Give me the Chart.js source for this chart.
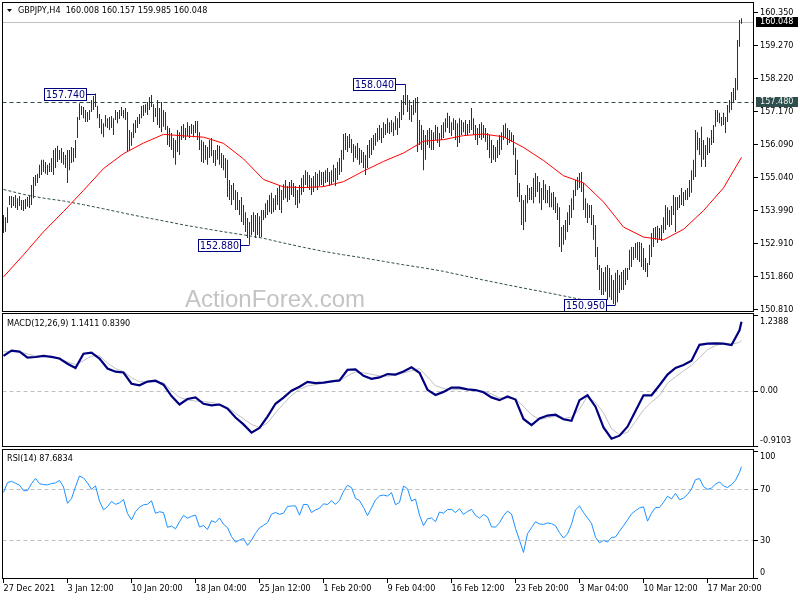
<!DOCTYPE html>
<html>
<head>
<meta charset="utf-8">
<title>GBPJPY H4</title>
<script src="https://cdn.jsdelivr.net/npm/chart.js@4.4.1/dist/chart.umd.min.js"></script>
<style>
  html, body { margin: 0; padding: 0; background: #ffffff; }
  #wrap { position: relative; width: 800px; height: 600px; overflow: hidden; background: #ffffff; }
  #wrap canvas { position: absolute; left: 0; display: block; }
</style>
</head>
<body>
<div id="wrap">
  <canvas id="cMain" width="800" height="312" style="top:0px"></canvas>
  <canvas id="cMacd" width="800" height="136" style="top:312px"></canvas>
  <canvas id="cRsi" width="800" height="152" style="top:448px"></canvas>
</div>
<script>
// ---------------- DATA ----------------
const symbol = 'GBPJPY,H4';
const lastOHLC = [160.008, 160.157, 159.985, 160.048];
const watermark = 'ActionForex.com';

const timeLabels = ['27 Dec 2021','3 Jan 12:00','10 Jan 20:00','18 Jan 04:00','25 Jan 12:00','1 Feb 20:00','9 Feb 04:00','16 Feb 12:00','23 Feb 20:00','3 Mar 04:00','10 Mar 12:00','17 Mar 20:00'];
const timeLabelBars = [0,32,64,96,128,160,192,224,256,288,320,352];

const priceTicks = [150.810,151.860,152.910,153.990,155.040,156.090,157.170,158.220,159.270,160.350];
const macdTicks = [-0.9103, 0, 1.2388];
const rsiTicks = [0, 30, 70, 100];
const rsiLevels = [70, 30];

const bidPrice = 160.048;
const levelPrice = 157.480;
const swingPrices = [157.740, 158.040, 152.880, 150.950];
const swingBars = [46, 201, 123, 306];

// H4 bar highs / lows (one per bar)
const high = [
153.84,153.77,154.09,154.45,154.45,154.42,154.48,154.38,154.45,154.32,
154.32,154.35,154.42,154.45,154.80,155.06,155.12,155.16,155.45,155.61,
155.61,155.54,155.45,155.51,155.67,155.93,155.99,156.06,155.93,155.99,
155.86,155.77,155.93,155.93,156.02,155.99,156.25,156.99,157.43,157.34,
157.31,157.21,157.15,157.21,157.53,157.66,157.74,157.34,157.08,156.92,
156.79,157.05,156.95,156.99,157.02,156.95,157.21,157.15,157.21,157.31,
157.21,157.28,157.15,156.57,156.50,156.79,156.89,156.99,157.08,157.34,
157.37,157.40,157.47,157.63,157.69,157.40,157.28,157.53,157.28,157.47,
157.21,157.15,156.70,156.63,156.47,156.31,156.25,156.57,156.50,156.70,
156.76,156.63,156.82,156.70,156.76,156.73,156.86,156.86,156.50,156.25,
156.19,156.09,156.02,156.25,156.31,155.93,155.93,156.09,156.06,155.83,
155.77,155.67,155.61,154.96,154.80,154.87,154.64,154.58,154.32,154.42,
154.16,153.93,153.74,153.61,153.84,153.93,153.84,153.90,153.80,154.00,
154.00,154.22,154.32,154.48,154.55,154.38,154.48,154.71,154.80,154.64,
154.83,154.96,154.77,154.90,154.96,154.87,154.77,154.64,154.80,155.03,
155.12,155.28,155.22,155.12,155.03,155.09,155.22,155.16,155.28,155.22,
155.22,155.28,155.35,155.22,155.28,155.45,155.35,155.54,155.67,155.93,
156.44,156.47,156.38,156.44,156.28,156.12,156.06,156.15,155.99,155.93,
155.86,155.77,156.09,156.25,156.31,156.41,156.47,156.63,156.73,156.63,
156.82,156.76,156.95,156.82,156.89,156.82,157.02,156.95,157.15,157.53,
157.69,158.04,157.69,157.53,157.37,157.53,157.60,157.63,156.89,156.73,
156.57,156.41,156.57,156.63,156.57,156.50,156.73,156.67,156.47,156.73,
156.82,156.95,157.12,157.02,156.82,156.95,156.89,156.79,156.95,156.89,
156.82,156.89,156.76,156.89,157.28,156.95,156.73,156.63,156.76,156.82,
156.73,156.63,156.47,156.41,156.25,156.09,156.02,156.25,156.41,156.50,
156.73,156.79,156.63,156.57,156.50,156.41,156.00,155.61,154.87,154.48,
154.32,154.48,154.80,154.71,154.74,155.03,155.19,155.09,154.90,154.71,
154.96,154.83,154.64,154.77,154.55,154.58,154.42,154.22,154.09,153.45,
153.52,153.68,153.93,154.16,154.38,154.64,154.96,155.06,155.19,155.22,
154.87,154.38,154.22,154.16,154.16,153.84,153.52,152.81,152.23,152.14,
152.01,152.17,152.23,152.14,151.91,151.75,151.98,152.07,151.91,152.01,
152.07,152.14,152.14,152.72,152.81,152.81,152.94,152.97,152.97,152.94,
152.78,152.46,152.30,152.88,153.26,153.42,153.45,153.49,153.42,153.52,
153.77,154.16,154.09,154.00,154.13,154.48,154.42,154.42,154.48,154.71,
154.58,154.64,154.71,154.96,155.28,155.61,156.57,156.50,156.31,156.67,
156.25,156.09,156.34,156.31,156.57,156.73,157.21,157.21,157.12,156.99,
157.12,156.99,157.37,157.53,157.79,157.92,158.24,159.46,160.10,160.157
];
const low = [
153.26,153.30,153.58,154.16,154.06,154.13,154.06,154.00,154.13,154.00,
153.97,154.03,154.10,154.06,154.16,154.38,154.77,154.87,155.03,155.12,
155.22,155.16,155.12,155.22,155.22,155.12,155.35,155.54,155.61,155.51,
155.45,155.35,154.87,155.28,155.51,155.54,155.67,156.31,156.89,157.05,
156.95,156.83,156.83,156.89,157.15,157.21,157.31,156.95,156.63,156.44,
156.34,156.67,156.63,156.57,156.63,156.41,156.89,156.79,156.92,157.02,
156.95,156.89,155.86,155.93,156.06,156.31,156.47,156.63,156.76,156.95,
157.02,157.12,157.05,157.21,157.31,156.83,156.99,156.73,156.63,156.50,
156.67,156.57,156.09,156.02,155.93,155.67,155.45,155.86,155.77,156.25,
156.31,156.25,156.38,156.31,156.44,156.34,156.47,156.25,155.93,155.54,
155.51,155.61,155.45,155.67,155.73,155.51,155.41,155.61,155.45,155.35,
155.28,155.03,154.42,154.32,154.16,154.32,154.00,154.00,153.84,153.61,
153.52,153.29,153.10,152.88,153.20,153.29,153.10,153.20,153.10,153.13,
153.68,153.74,153.84,153.93,153.87,153.93,154.00,154.16,154.00,153.90,
154.32,154.38,154.26,154.32,154.48,154.42,154.16,154.06,154.22,154.48,
154.58,154.80,154.71,154.64,154.48,154.58,154.71,154.64,154.77,154.80,
154.74,154.87,154.90,154.77,154.80,154.90,154.77,154.96,155.12,155.22,
155.61,155.93,155.86,155.99,155.83,155.54,155.67,155.61,155.45,155.51,
155.35,155.12,155.35,155.67,155.77,155.93,156.06,156.19,156.25,156.15,
156.31,156.41,156.47,156.44,156.50,156.38,156.57,156.41,156.63,156.89,
157.05,157.37,157.15,156.89,156.83,157.05,157.12,155.86,156.09,155.93,
155.28,155.61,156.09,155.99,155.93,155.93,156.25,156.15,156.02,156.25,
156.31,156.50,156.63,156.47,156.38,156.57,156.25,156.02,156.15,156.41,
156.50,156.38,156.41,156.47,156.57,156.41,156.25,156.09,156.31,156.25,
156.31,156.19,155.93,155.67,155.51,155.61,155.54,155.67,155.77,155.93,
156.25,156.31,156.09,156.15,156.19,155.77,155.12,154.42,154.26,153.52,
153.36,153.61,154.22,154.32,154.32,154.22,154.42,154.58,154.22,154.00,
154.32,154.22,154.22,154.09,154.09,154.00,153.90,153.68,152.81,152.65,
152.88,153.04,153.29,153.52,153.74,154.00,154.45,154.64,154.71,154.58,
154.00,153.74,153.58,153.74,153.52,153.04,152.49,152.07,151.43,151.27,
151.27,151.37,151.11,151.20,151.11,150.98,150.95,151.04,151.33,151.43,
151.43,151.59,151.75,152.07,152.17,152.39,152.46,152.39,152.33,152.17,
152.07,152.01,151.85,152.23,152.49,152.81,153.04,152.94,153.04,153.00,
153.26,153.36,153.52,153.45,153.52,153.84,153.29,154.00,154.06,154.16,
154.13,154.32,154.32,154.42,154.55,154.96,155.06,155.93,155.77,155.38,
155.61,155.38,155.77,155.83,156.09,156.15,156.67,156.83,156.79,156.70,
156.73,156.47,156.83,157.12,157.21,157.44,157.53,157.85,159.24,159.985
];

// moving averages, read every 10 bars (last point = last bar)
const smaStep = 10;
const sma55 = [
151.85,152.56,153.30,153.95,154.63,155.33,155.81,156.15,156.43,156.38,
156.34,156.14,155.64,154.98,154.74,154.72,154.75,154.91,155.25,155.56,
155.83,156.21,156.26,156.39,156.44,156.35,156.01,155.59,155.10,154.87,
154.26,153.45,153.13,153.04,153.38,153.98,154.71,155.69
];
const sma200 = [
154.66,154.50,154.38,154.29,154.17,154.04,153.90,153.77,153.65,153.52,
153.41,153.30,153.20,153.09,152.94,152.80,152.67,152.56,152.46,152.35,
152.24,152.14,152.03,151.89,151.75,151.62,151.49,151.37,151.24,151.11,
150.98
];

// MACD(12,26,9), read every 4 bars (last point = last bar)
const macdStep = 4;
const macdMain = [
0.58,0.665,0.65,0.55,0.56,0.58,0.562,0.536,0.45,0.38,
0.615,0.631,0.535,0.37,0.318,0.305,0.12,0.094,0.156,0.17,
0.105,-0.083,-0.222,-0.131,-0.104,-0.21,-0.235,-0.222,-0.29,-0.436,
-0.55,-0.685,-0.608,-0.42,-0.21,-0.108,0.004,0.07,0.15,0.129,
0.137,0.159,0.175,0.35,0.355,0.25,0.2,0.224,0.28,0.27,
0.32,0.39,0.3,0.02,-0.066,-0.014,0.056,0.055,0.027,0.016,
-0.02,-0.105,-0.15,-0.09,-0.14,-0.46,-0.56,-0.452,-0.404,-0.39,
-0.466,-0.49,-0.15,-0.07,-0.258,-0.6,-0.785,-0.735,-0.588,-0.33,
-0.07,-0.07,0.095,0.27,0.38,0.43,0.5,0.76,0.78,0.785,
0.78,0.758,1.0,1.1411
];
const macdSignal = [
0.647,0.647,0.647,0.61,0.575,0.57,0.562,0.52,0.48,0.437,
0.5,0.575,0.58,0.46,0.37,0.32,0.22,0.153,0.153,0.147,
0.137,0.005,-0.105,-0.145,-0.165,-0.172,-0.19,-0.215,-0.27,-0.365,
-0.457,-0.55,-0.6,-0.525,-0.36,-0.21,-0.075,0.03,0.083,0.105,
0.127,0.15,0.168,0.25,0.315,0.3,0.275,0.25,0.245,0.263,
0.298,0.335,0.37,0.23,0.088,0.04,0.02,0.024,0.028,0.012,
-0.004,-0.047,-0.112,-0.115,-0.13,-0.255,-0.39,-0.47,-0.44,-0.415,
-0.455,-0.43,-0.3,-0.085,-0.19,-0.36,-0.62,-0.72,-0.68,-0.5,
-0.31,-0.18,-0.075,0.13,0.235,0.33,0.425,0.55,0.68,0.75,
0.785,0.772,0.8,0.8390
];

// RSI(14), read every 2 bars (last point = last bar)
const rsiStep = 2;
const rsi14 = [
67.6,75.2,76.3,74.7,73.3,68.9,69,74.5,78.6,74.4,
73.7,73.5,74.5,75,77,71.8,59,62.7,72,80.5,
78.9,75,70,72.7,60.8,53.9,56.4,60.5,58.2,59.4,
62,51,46,52.4,56,57.8,58.3,61,51.2,52.4,
51.7,40.2,41.2,39,44.6,49.6,47.4,48.8,49.8,40.4,
41.6,38.5,45.4,44,47.5,42.6,40,33,28.5,30.2,
31.4,26,30,35.5,39.8,41.8,43.8,50.5,51.8,50.4,
51.2,56.6,56.9,57,49.7,58.2,58,51.8,53.8,55.1,
58.6,58.1,61,58.2,61.4,68.4,73.2,71.4,62.9,61.1,
55.8,49.4,55.4,61.7,64.8,65.5,64.7,67.4,57.9,59.8,
72.6,70.4,60.8,62.3,49.8,41.5,46.9,47.5,44.6,52.2,
51.3,54.1,54.3,51.8,54.7,50.3,52.6,54.3,49.6,47.4,
50.2,48.3,40.6,40.3,43.8,49.3,52.9,50.6,39.4,30,
20.5,35.2,39.9,44.6,42.8,42.5,43.6,43.1,41.4,36,
31.8,35.1,42.6,53.8,56.9,51.8,47.5,43.3,32.4,28,
30,28.6,32.2,32.6,37.2,41.4,46,50.6,53.3,55.3,
56.3,45,51.3,55.7,55.7,59.8,64.6,62.4,66.9,61.8,
63.1,65.9,70.3,77.6,78.4,72.1,70,71,74,75.8,
72.6,71.4,73.7,77.1,83.3,87.6834
];

// ---------------- CHARTS ----------------
const FONT = '"DejaVu Sans Condensed", "Liberation Sans", Arial, sans-serif';
const WM_FONT = '"Liberation Sans", Arial, Helvetica, sans-serif';
const AX = 9;
Chart.defaults.font.family = FONT;
Chart.defaults.font.size = AX;
Chart.defaults.color = '#000000';
Chart.defaults.animation = false;

const lastBar = high.length - 1;
const toPoints = (values, step) => values.map((v, k) => ({ x: Math.min(k * step, lastBar), y: v }));
const barPoints = high.map((h, i) => ({ x: i, y: [low[i], h] }));

const noOverflowPad = s => { s.paddingTop = 0; s.paddingBottom = 0; s.paddingLeft = 0; s.paddingRight = 0; };

const X_MIN = -0.5, X_MAX = 375.25;
function xScale(show) {
  return {
    type: 'linear', min: X_MIN, max: X_MAX, offset: false, display: show,
    afterBuildTicks: s => { s.ticks = timeLabelBars.map(v => ({ value: v })); },
    afterFit: s => { if (show) s.height = 21; noOverflowPad(s); },
    grid: { drawOnChartArea: false, drawTicks: true, tickLength: 4, color: '#000', offset: false },
    border: { display: false },
    ticks: { autoSkip: false, maxRotation: 0, minRotation: 0, align: 'start', padding: 0,
             font: { size: AX }, color: '#000', callback: (v, i) => timeLabels[i] }
  };
}
function yScale(min, max, tickValues, fmt, edgeShift) {
  const tMax = Math.max(...tickValues), tMin = Math.min(...tickValues);
  return {
    position: 'right', min, max,
    afterBuildTicks: s => { s.ticks = tickValues.map(v => ({ value: v })); },
    afterFit: s => { s.width = 46; noOverflowPad(s); },
    grid: { drawOnChartArea: false, drawTicks: true, tickLength: 4, color: '#000' },
    border: { display: false },
    ticks: { autoSkip: false, padding: 2, font: { size: AX }, color: '#000',
      callback: v => {
        const s = fmt(v);
        if (edgeShift && v === tMax) return ['', s];
        if (edgeShift && v === tMin) return [s, ''];
        return s;
      } }
  };
}
const baseOptions = (padTop, padBottom) => ({
  responsive: false, devicePixelRatio: 1, animation: false,
  layout: { padding: { left: 2.5, right: 0, top: padTop, bottom: padBottom } },
  plugins: { legend: { display: false }, tooltip: { enabled: false } },
  events: []
});

const framePlugin = {
  id: 'frame',
  afterDraw(chart) {
    const { ctx, chartArea: a } = chart;
    const L = Math.floor(a.left) + 0.5, R = Math.ceil(a.right) - 0.5;
    const T = Math.floor(a.top) + 0.5, B = Math.ceil(a.bottom) - 0.5;
    ctx.save();
    ctx.strokeStyle = '#000'; ctx.lineWidth = 1; ctx.setLineDash([]);
    ctx.strokeRect(L, T, R - L, B - T);
    ctx.restore();
  }
};
function hLine(ctx, a, yPix, color, dash) {
  const yy = Math.round(yPix) + 0.5;
  ctx.save();
  ctx.strokeStyle = color; ctx.lineWidth = 1; ctx.setLineDash(dash);
  ctx.beginPath(); ctx.moveTo(a.left, yy); ctx.lineTo(a.right, yy); ctx.stroke();
  ctx.restore();
}
function panelTitle(ctx, text, x, y) {
  ctx.save();
  ctx.font = AX + 'px ' + FONT; ctx.fillStyle = '#000';
  ctx.textAlign = 'left'; ctx.textBaseline = 'middle';
  ctx.fillText(text, x, y);
  ctx.restore();
}

const mainDecor = {
  id: 'mainDecor',
  beforeDatasetsDraw(chart) {
    const { ctx, chartArea: a, scales: { y } } = chart;
    ctx.save();
    ctx.font = '24px ' + WM_FONT; ctx.fillStyle = '#c4c4c4';
    ctx.textAlign = 'left'; ctx.textBaseline = 'alphabetic';
    ctx.fillText(watermark, 185, 306.5);
    ctx.restore();
    hLine(ctx, a, y.getPixelForValue(bidPrice), '#c0c0c0', []);
    hLine(ctx, a, y.getPixelForValue(levelPrice), '#2f4f4f', [4, 3]);
  },
  afterDatasetsDraw(chart) {
    const { ctx, scales: { x, y } } = chart;
    ctx.save();
    ctx.font = '10.5px ' + FONT; ctx.lineWidth = 1;
    swingPrices.forEach((p, k) => {
      const bx = x.getPixelForValue(swingBars[k]);
      const py = Math.round(y.getPixelForValue(p)) + 0.5;
      const w = 42, h = 12;
      const r = Math.round(bx - 10) + 0.5, l = r - w;
      ctx.fillStyle = '#ffffff'; ctx.fillRect(l, py - h / 2, w, h);
      ctx.strokeStyle = '#000080'; ctx.strokeRect(l, py - h / 2, w, h);
      ctx.beginPath(); ctx.moveTo(r, py); ctx.lineTo(bx, py); ctx.stroke();
      ctx.fillStyle = '#000080'; ctx.textAlign = 'center'; ctx.textBaseline = 'middle';
      ctx.fillText(p.toFixed(3), l + w / 2, py + 0.5);
    });
    ctx.restore();
  },
  afterDraw(chart) {
    const { ctx, chartArea: a, scales: { y } } = chart;
    ctx.save();
    ctx.fillStyle = '#000';
    ctx.beginPath(); ctx.moveTo(7, 9); ctx.lineTo(12, 9); ctx.lineTo(9.5, 12); ctx.closePath(); ctx.fill();
    ctx.restore();
    panelTitle(ctx, symbol + '  ' + lastOHLC.map(v => v.toFixed(3)).join(' '), 18, 10.5);
    const tag = (price, fill, color) => {
      const py = Math.round(y.getPixelForValue(price));
      ctx.save();
      ctx.fillStyle = fill; ctx.fillRect(a.right + 2, py - 5, 42, 10);
      ctx.fillStyle = color; ctx.font = AX + 'px ' + FONT;
      ctx.textAlign = 'left'; ctx.textBaseline = 'middle';
      ctx.fillText(price.toFixed(3), a.right + 6, py);
      ctx.restore();
    };
    tag(levelPrice, '#2f4f4f', '#f0f0f0');
    tag(bidPrice, '#000000', '#ffffff');
  }
};

new Chart(document.getElementById('cMain'), {
  type: 'bar',
  data: {
    datasets: [
      { type: 'line', data: toPoints(sma55, smaStep), borderColor: '#ff0000', borderWidth: 1, pointRadius: 0, tension: 0 },
      { type: 'line', data: toPoints(sma200, smaStep), borderColor: '#2f4f4f', borderWidth: 1, borderDash: [3, 2], pointRadius: 0, tension: 0 },
      { type: 'bar', data: barPoints, backgroundColor: '#0f3956', borderWidth: 0, barThickness: 1, inflateAmount: 0, grouped: false }
    ]
  },
  options: Object.assign(baseOptions(2, 0.5), {
    scales: {
      x: xScale(false),
      y: yScale(150.739, 160.681, priceTicks, v => v.toFixed(3), false)
    }
  }),
  plugins: [mainDecor, framePlugin]
});

new Chart(document.getElementById('cMacd'), {
  type: 'line',
  data: {
    datasets: [
      { data: toPoints(macdMain, macdStep), borderColor: '#000080', borderWidth: 2.2, pointRadius: 0, tension: 0 },
      { data: toPoints(macdSignal, macdStep), borderColor: '#c0c0c0', borderWidth: 1, pointRadius: 0, tension: 0 }
    ]
  },
  options: Object.assign(baseOptions(1, 1), {
    scales: {
      x: xScale(false),
      y: yScale(-0.9218, 1.2849, macdTicks, v => (v === 0 ? '0.00' : v.toFixed(4)), true)
    }
  }),
  plugins: [{
    id: 'macdDecor',
    beforeDatasetsDraw(chart) {
      const { ctx, chartArea: a, scales: { y } } = chart;
      hLine(ctx, a, y.getPixelForValue(0), '#c0c0c0', [4, 3]);
    },
    afterDraw(chart) {
      panelTitle(chart.ctx, 'MACD(12,26,9) ' + macdMain[macdMain.length - 1].toFixed(4) + ' ' + macdSignal[macdSignal.length - 1].toFixed(4), 7, 12);
    }
  }, framePlugin]
});

new Chart(document.getElementById('cRsi'), {
  type: 'line',
  data: {
    datasets: [
      { data: toPoints(rsi14, rsiStep), borderColor: '#1e90ff', borderWidth: 1, pointRadius: 0, tension: 0 }
    ]
  },
  options: Object.assign(baseOptions(1, 0), {
    scales: {
      x: xScale(true),
      y: yScale(-0.35, 101.61, rsiTicks, v => String(v), true)
    }
  }),
  plugins: [{
    id: 'rsiDecor',
    beforeDatasetsDraw(chart) {
      const { ctx, chartArea: a, scales: { y } } = chart;
      rsiLevels.forEach(l => hLine(ctx, a, y.getPixelForValue(l), '#c0c0c0', [4, 3]));
    },
    afterDraw(chart) {
      panelTitle(chart.ctx, 'RSI(14) ' + rsi14[rsi14.length - 1].toFixed(4), 7, 11);
    }
  }, framePlugin]
});
</script>
</body>
</html>
